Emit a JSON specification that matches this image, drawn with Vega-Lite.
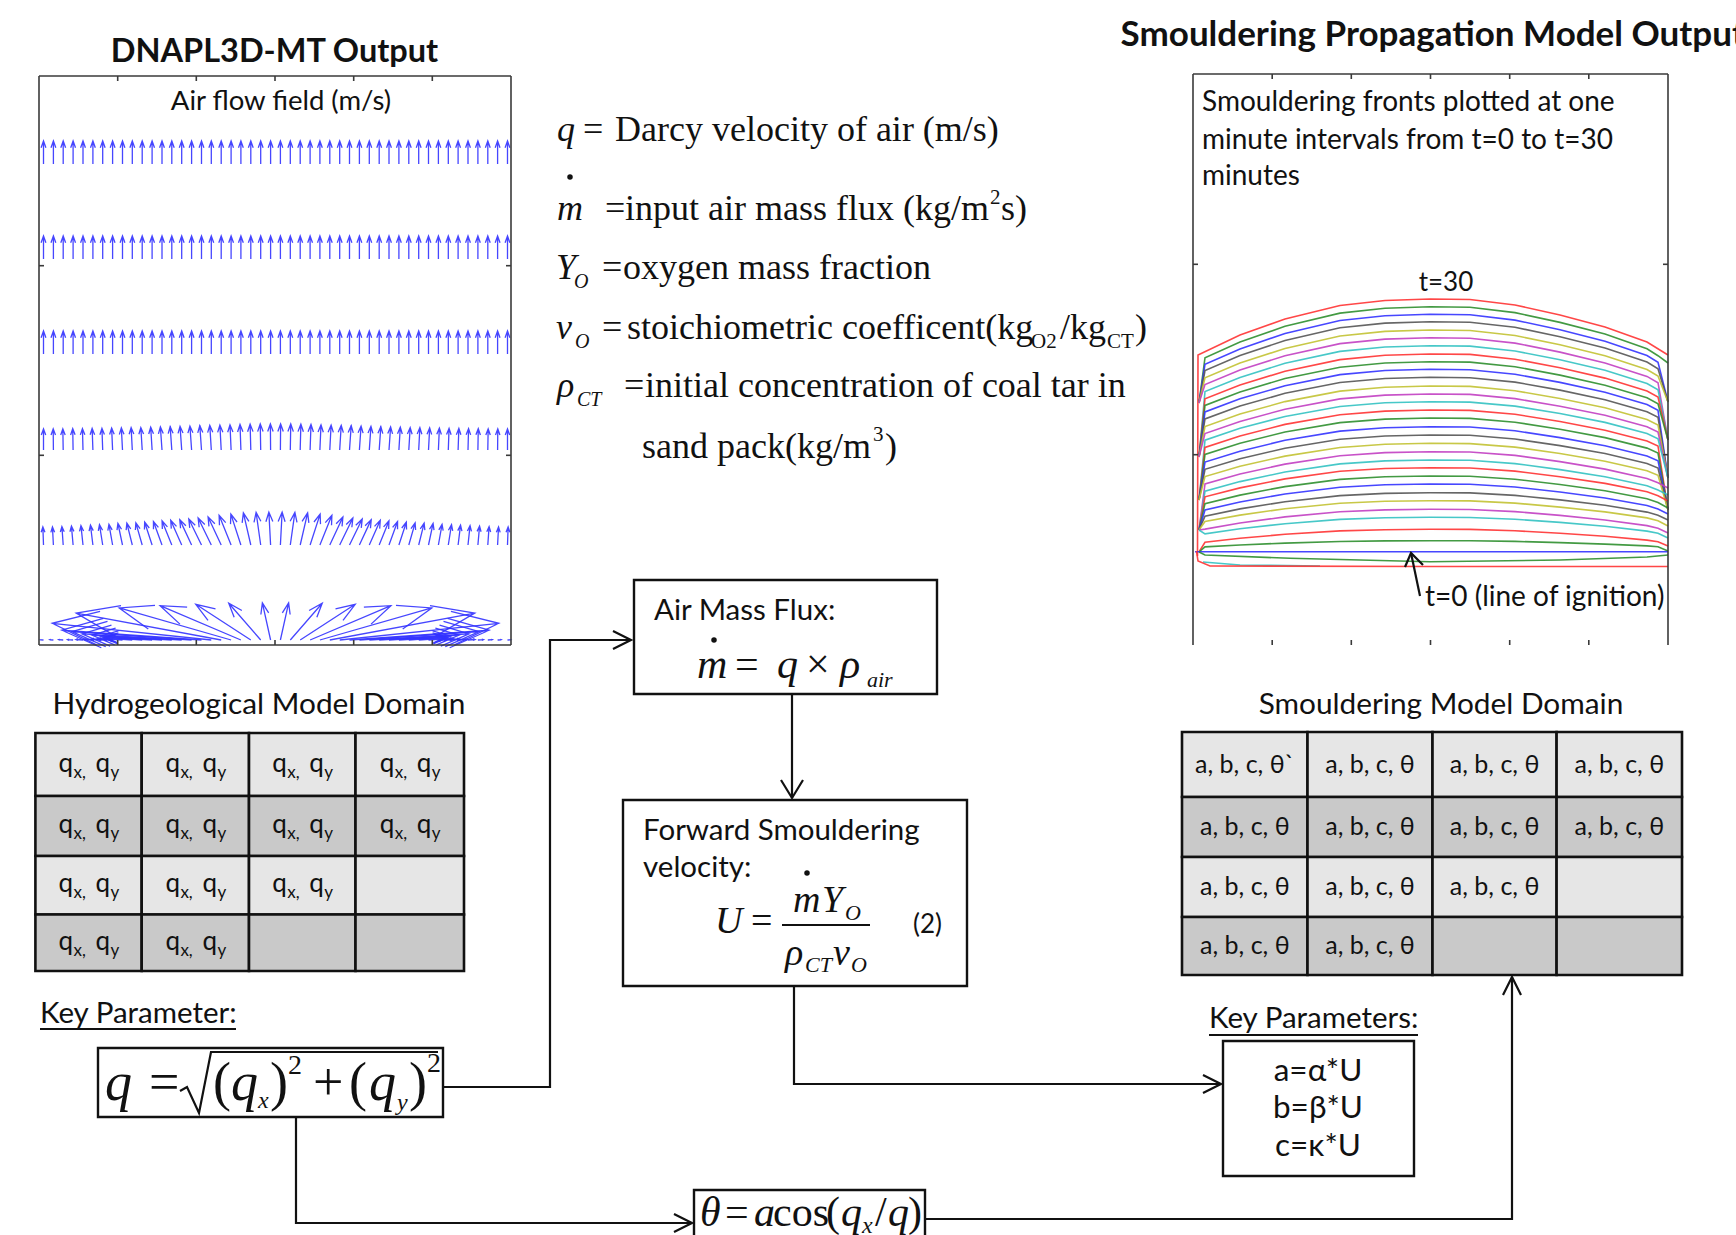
{
"$schema":"https://vega.github.io/schema/vega-lite/v6.json",
"width":1736,"height":1235,"autosize":{"type":"none"},"padding":0,
"background":"#ffffff",
"config":{"view":{"stroke":null}},
"datasets":{
"cells":[
{"x":35.4,"x2":141.7,"y":733,"y2":796,"row":1},{"x":141.7,"x2":249,"y":733,"y2":796,"row":1},{"x":249,"x2":355.5,"y":733,"y2":796,"row":1},{"x":355.5,"x2":464,"y":733,"y2":796,"row":1},
{"x":35.4,"x2":141.7,"y":796,"y2":856,"row":2},{"x":141.7,"x2":249,"y":796,"y2":856,"row":2},{"x":249,"x2":355.5,"y":796,"y2":856,"row":2},{"x":355.5,"x2":464,"y":796,"y2":856,"row":2},
{"x":35.4,"x2":141.7,"y":856,"y2":914.5,"row":3},{"x":141.7,"x2":249,"y":856,"y2":914.5,"row":3},{"x":249,"x2":355.5,"y":856,"y2":914.5,"row":3},{"x":355.5,"x2":464,"y":856,"y2":914.5,"row":3},
{"x":35.4,"x2":141.7,"y":914.5,"y2":971,"row":4},{"x":141.7,"x2":249,"y":914.5,"y2":971,"row":4},{"x":249,"x2":355.5,"y":914.5,"y2":971,"row":4},{"x":355.5,"x2":464,"y":914.5,"y2":971,"row":4},
{"x":1182,"x2":1307.5,"y":732,"y2":797,"row":1},{"x":1307.5,"x2":1432.5,"y":732,"y2":797,"row":1},{"x":1432.5,"x2":1556.6,"y":732,"y2":797,"row":1},{"x":1556.6,"x2":1682,"y":732,"y2":797,"row":1},
{"x":1182,"x2":1307.5,"y":797,"y2":857,"row":2},{"x":1307.5,"x2":1432.5,"y":797,"y2":857,"row":2},{"x":1432.5,"x2":1556.6,"y":797,"y2":857,"row":2},{"x":1556.6,"x2":1682,"y":797,"y2":857,"row":2},
{"x":1182,"x2":1307.5,"y":857,"y2":917,"row":3},{"x":1307.5,"x2":1432.5,"y":857,"y2":917,"row":3},{"x":1432.5,"x2":1556.6,"y":857,"y2":917,"row":3},{"x":1556.6,"x2":1682,"y":857,"y2":917,"row":3},
{"x":1182,"x2":1307.5,"y":917,"y2":975,"row":4},{"x":1307.5,"x2":1432.5,"y":917,"y2":975,"row":4},{"x":1432.5,"x2":1556.6,"y":917,"y2":975,"row":4},{"x":1556.6,"x2":1682,"y":917,"y2":975,"row":4}
],
"boxes":[
{"x":634,"x2":937,"y":580,"y2":694},{"x":623,"x2":967,"y":800,"y2":986},{"x":1223,"x2":1414,"y":1041,"y2":1176},{"x":98,"x2":443,"y":1048,"y2":1117},{"x":694,"x2":925,"y":1190,"y2":1250}
],
"axlines":[
{"x":39,"y":76,"x2":511,"y2":76},{"x":39,"y":645,"x2":511,"y2":645},{"x":39,"y":76,"x2":39,"y2":645},{"x":511,"y":76,"x2":511,"y2":645},
{"x":1193,"y":74,"x2":1193,"y2":645},{"x":1193,"y":74,"x2":1668,"y2":74},{"x":1668,"y":74,"x2":1668,"y2":645},
{"x":117.7,"y":76,"x2":117.7,"y2":81},{"x":196.3,"y":76,"x2":196.3,"y2":81},{"x":275,"y":76,"x2":275,"y2":81},{"x":353.7,"y":76,"x2":353.7,"y2":81},{"x":432.3,"y":76,"x2":432.3,"y2":81},
{"x":117.7,"y":645,"x2":117.7,"y2":640},{"x":196.3,"y":645,"x2":196.3,"y2":640},{"x":275,"y":645,"x2":275,"y2":640},{"x":353.7,"y":645,"x2":353.7,"y2":640},{"x":432.3,"y":645,"x2":432.3,"y2":640},
{"x":39,"y":265.7,"x2":44,"y2":265.7},{"x":39,"y":455.3,"x2":44,"y2":455.3},{"x":511,"y":265.7,"x2":506,"y2":265.7},{"x":511,"y":455.3,"x2":506,"y2":455.3},
{"x":1272.2,"y":74,"x2":1272.2,"y2":79},{"x":1351.3,"y":74,"x2":1351.3,"y2":79},{"x":1430.5,"y":74,"x2":1430.5,"y2":79},{"x":1509.7,"y":74,"x2":1509.7,"y2":79},{"x":1588.8,"y":74,"x2":1588.8,"y2":79},
{"x":1272.2,"y":645,"x2":1272.2,"y2":640},{"x":1351.3,"y":645,"x2":1351.3,"y2":640},{"x":1430.5,"y":645,"x2":1430.5,"y2":640},{"x":1509.7,"y":645,"x2":1509.7,"y2":640},{"x":1588.8,"y":645,"x2":1588.8,"y2":640},
{"x":1193,"y":264.3,"x2":1198,"y2":264.3},{"x":1193,"y":454.7,"x2":1198,"y2":454.7},{"x":1668,"y":264.3,"x2":1663,"y2":264.3},{"x":1668,"y":454.7,"x2":1663,"y2":454.7}
],
"paths":[
{"p":"P1","i":[0,1,2,3],"x":[444,550,550,631],"y":[1087,1087,640,640]},
{"p":"P1h","i":[0,1,2],"x":[613,631,613],"y":[631,640,649]},
{"p":"P2","i":[0,1],"x":[792,792],"y":[694,798]},
{"p":"P2h","i":[0,1,2],"x":[781,792,803],"y":[780,798,780]},
{"p":"P3","i":[0,1,2],"x":[794,794,1221],"y":[986,1084,1084]},
{"p":"P3h","i":[0,1,2],"x":[1203,1221,1203],"y":[1075,1084,1093]},
{"p":"P4","i":[0,1,2],"x":[296,296,692],"y":[1117,1223,1223]},
{"p":"P4h","i":[0,1,2],"x":[674,692,674],"y":[1214,1223,1232]},
{"p":"P5","i":[0,1,2],"x":[925,1512,1512],"y":[1219,1219,977]},
{"p":"P5h","i":[0,1,2],"x":[1503,1512,1521],"y":[995,977,995]},
{"p":"U1","i":[0,1],"x":[40,236],"y":[1029,1029]},
{"p":"U2","i":[0,1],"x":[1209,1418],"y":[1035,1035]},
{"p":"FB","i":[0,1],"x":[782,870],"y":[925,925]},
{"p":"RAD","i":[0,1,2,3,4],"x":[180,187,199,211,438],"y":[1091,1087,1113,1052,1052]},
{"p":"K","i":[0,1],"x":[1420,1411],"y":[596,553]},
{"p":"Kh","i":[0,1,2],"x":[1405,1411,1423],"y":[567,553,565]}
],
"fronts":[
{"t":30,"x":[1197.5,1198,1240,1285,1340,1385,1430,1470,1515,1560,1605,1647,1668],"y":[556,355,335,319,305.5,300.5,299,299.5,305,315,327,342,355]},
{"t":29,"x":[1199,1205,1240,1285,1340,1385,1430,1470,1515,1560,1605,1647,1658,1668],"y":[403,357.7,342.0,326.3,313.1,308.2,306.7,307.2,312.6,322.4,334.1,348.8,355.7,363]},
{"t":28,"x":[1199,1205,1240,1285,1340,1385,1430,1470,1515,1560,1605,1647,1658,1668],"y":[403,364.2,348.9,333.5,320.5,315.7,314.3,314.8,320.1,329.7,341.2,355.6,362.3,402]},
{"t":27,"x":[1199,1205,1240,1285,1340,1385,1430,1470,1515,1560,1605,1647,1658,1668],"y":[403,370.6,355.5,340.5,327.8,323.1,321.7,322.2,327.3,336.7,348.0,362.1,368.7,402]},
{"t":26,"x":[1199,1205,1240,1285,1340,1385,1430,1470,1515,1560,1605,1647,1658,1668],"y":[403,377.8,363.1,348.4,336.0,331.4,330,330.5,335.5,344.7,355.8,369.6,376.0,402]},
{"t":25,"x":[1199,1205,1240,1285,1340,1385,1430,1470,1515,1560,1605,1647,1658,1668],"y":[403,384.5,370.1,355.7,343.6,339.1,337.7,338.2,343.1,352.1,362.9,376.4,382.7,440]},
{"t":24,"x":[1199,1205,1240,1285,1340,1385,1430,1470,1515,1560,1605,1647,1658,1668],"y":[457,391.5,377.4,363.3,351.4,347.0,345.7,346.1,351.0,359.8,370.3,383.5,389.7,440]},
{"t":23,"x":[1199,1205,1240,1285,1340,1385,1430,1470,1515,1560,1605,1647,1658,1668],"y":[457,398.7,385.0,371.2,359.6,355.3,354,354.4,359.2,367.8,378.1,391.0,397.0,440]},
{"t":22,"x":[1199,1205,1240,1285,1340,1385,1430,1470,1515,1560,1605,1647,1658,1668],"y":[457,405.4,391.9,378.5,367.2,363.0,361.7,362.1,366.7,375.1,385.2,397.8,403.7,440]},
{"t":21,"x":[1199,1205,1240,1285,1340,1385,1430,1470,1515,1560,1605,1647,1658,1668],"y":[457,411.9,398.8,385.7,374.6,370.5,369.3,369.7,374.2,382.4,392.3,404.6,410.3,478]},
{"t":20,"x":[1199,1205,1240,1285,1340,1385,1430,1470,1515,1560,1605,1647,1658,1668],"y":[457,418.9,406.1,393.3,382.5,378.5,377.3,377.7,382.1,390.1,399.7,411.7,417.3,478]},
{"t":19,"x":[1199,1205,1240,1285,1340,1385,1430,1470,1515,1560,1605,1647,1658,1668],"y":[457,426.6,414.1,401.6,391.1,387.2,386,386.4,390.7,398.5,407.8,419.5,425.0,478]},
{"t":18,"x":[1199,1205,1240,1285,1340,1385,1430,1470,1515,1560,1605,1647,1658,1668],"y":[457,433.5,421.4,409.2,398.9,395.1,394,394.4,398.6,406.2,415.3,426.7,432.0,478]},
{"t":17,"x":[1199,1205,1240,1285,1340,1385,1430,1470,1515,1560,1605,1647,1658,1668],"y":[500,440.2,428.3,416.5,406.5,402.8,401.7,402.1,406.1,413.5,422.4,433.5,438.7,478]},
{"t":16,"x":[1199,1205,1240,1285,1340,1385,1430,1470,1515,1560,1605,1647,1658,1668],"y":[500,447.4,435.9,424.4,414.7,411.1,410,410.4,414.3,421.5,430.2,441.0,446.0,510]},
{"t":15,"x":[1199,1205,1240,1285,1340,1385,1430,1470,1515,1560,1605,1647,1658,1668],"y":[500,454.4,443.2,432.0,422.6,419.1,418,418.4,422.2,429.2,437.6,448.1,453.0,510]},
{"t":14,"x":[1199,1205,1240,1285,1340,1385,1430,1470,1515,1560,1605,1647,1658,1668],"y":[500,462.1,451.2,440.3,431.1,427.7,426.7,427.0,430.8,437.6,445.7,455.9,460.7,510]},
{"t":13,"x":[1199,1205,1240,1285,1340,1385,1430,1470,1515,1560,1605,1647,1658,1668],"y":[500,469.3,458.8,448.2,439.3,436.0,435,435.3,439.0,445.6,453.5,463.4,468.0,510]},
{"t":12,"x":[1199,1205,1240,1285,1340,1385,1430,1470,1515,1560,1605,1647,1658,1668],"y":[500,476.6,466.3,456.1,447.5,444.3,443.3,443.6,447.1,453.5,461.2,470.8,475.3,510]},
{"t":11,"x":[1199,1205,1240,1285,1340,1385,1430,1470,1515,1560,1605,1647,1658,1668],"y":[530,483.9,474.0,464.1,455.7,452.6,451.7,452.0,455.4,461.6,469.1,478.4,482.7,488]},
{"t":10,"x":[1199,1205,1240,1285,1340,1385,1430,1470,1515,1560,1605,1647,1658,1668],"y":[530,491.2,481.6,472.0,463.9,460.9,460,460.3,463.6,469.6,476.8,485.8,490.0,495]},
{"t":9,"x":[1199,1205,1240,1285,1340,1385,1430,1470,1515,1560,1605,1647,1658,1668],"y":[530,496.8,487.9,478.9,471.3,468.5,467.7,468.0,471.1,476.7,483.4,491.8,495.7,501]},
{"t":8,"x":[1199,1205,1240,1285,1340,1385,1430,1470,1515,1560,1605,1647,1658,1668],"y":[530,503.6,495.1,486.6,479.4,476.8,476,476.3,479.2,484.5,490.8,498.8,502.5,508]},
{"t":7,"x":[1199,1205,1240,1285,1340,1385,1430,1470,1515,1560,1605,1647,1658,1668],"y":[530,510,502,494,487.3,484.8,484,484.3,487,492,498,505.5,509,514]},
{"t":6,"x":[1199,1205,1240,1285,1340,1385,1430,1470,1515,1560,1605,1647,1658,1668],"y":[530,516.1,508.9,501.7,495.6,493.4,492.7,492.9,495.4,499.9,505.3,512.1,515.2,520]},
{"t":5,"x":[1199,1205,1240,1285,1340,1385,1430,1470,1515,1560,1605,1647,1658,1668],"y":[530,521.5,515.1,508.7,503.3,501.3,500.7,500.9,503.1,507.1,511.9,517.9,520.7,526]},
{"t":4,"x":[1199,1205,1240,1285,1340,1385,1430,1470,1515,1560,1605,1647,1658,1668],"y":[530,529.1,523.0,516.9,511.8,509.9,509.3,509.5,511.6,515.4,520.0,525.6,528.3,533]},
{"t":3,"x":[1199,1205,1240,1285,1340,1385,1430,1470,1515,1560,1605,1647,1658,1668],"y":[530,533.9,528.8,523.7,519.4,517.8,517.3,517.5,519.2,522.4,526.3,531.1,533.3,538]},
{"t":2,"x":[1199,1205,1240,1285,1340,1385,1430,1470,1515,1560,1605,1647,1658,1668],"y":[552,542.3,538.3,534.3,530.9,529.7,529.3,529.4,530.8,533.3,536.3,540.1,541.8,546]},
{"t":1,"x":[1199,1205,1240,1285,1340,1385,1430,1470,1515,1560,1605,1647,1658,1668],"y":[552,546.9,545.0,543.1,541.5,540.9,540.7,540.8,541.4,542.6,544.1,545.9,546.7,551]},
{"t":0,"x":[1195,1668],"y":[551.7,551.7]},
{"t":31,"x":[1199,1205,1290,1430,1560,1647,1668],"y":[552,555,558.3,561.7,560,557,555]},
{"t":32,"x":[1203,1240,1320],"y":[562,565,566]},
{"t":33,"x":[1196.5,1198,1210,1430,1668],"y":[551,561,566,566.5,566.5]}
],
"quiverU":[
{"y":164,"a":0,"L":23,"x":[43.5,53.4,63.2,73.1,83.0,92.9,102.7,112.6,122.5,132.3,142.2,152.1,162.0,171.8,181.7,191.6,201.5,211.3,221.2,231.1,240.9,250.8,260.7,270.6,280.4,290.3,300.2,310.1,319.9,329.8,339.7,349.5,359.4,369.3,379.2,389.0,398.9,408.8,418.7,428.5,438.4,448.3,458.1,468.0,477.9,487.8,497.6,507.5]},
{"y":259,"a":0,"L":23,"x":[43.5,53.4,63.2,73.1,83.0,92.9,102.7,112.6,122.5,132.3,142.2,152.1,162.0,171.8,181.7,191.6,201.5,211.3,221.2,231.1,240.9,250.8,260.7,270.6,280.4,290.3,300.2,310.1,319.9,329.8,339.7,349.5,359.4,369.3,379.2,389.0,398.9,408.8,418.7,428.5,438.4,448.3,458.1,468.0,477.9,487.8,497.6,507.5]},
{"y":354,"a":0,"L":23,"x":[43.5,53.4,63.2,73.1,83.0,92.9,102.7,112.6,122.5,132.3,142.2,152.1,162.0,171.8,181.7,191.6,201.5,211.3,221.2,231.1,240.9,250.8,260.7,270.6,280.4,290.3,300.2,310.1,319.9,329.8,339.7,349.5,359.4,369.3,379.2,389.0,398.9,408.8,418.7,428.5,438.4,448.3,458.1,468.0,477.9,487.8,497.6,507.5]}
],
"quiverV":[
{"y":450,"x":[43.5,53.4,63.2,73.1,83.0,92.9,102.7,112.6,122.5,132.3,142.2,152.1,162.0,171.8,181.7,191.6,201.5,211.3,221.2,231.1,240.9,250.8,260.7,270.6,280.4,290.3,300.2,310.1,319.9,329.8,339.7,349.5,359.4,369.3,379.2,389.0,398.9,408.8,418.7,428.5,438.4,448.3,458.1,468.0,477.9,487.8,497.6,507.5],
"a":[0,-0.5,-1,-1,-1.5,-2,-2,-2.5,-3,-3,-3.5,-3.5,-4,-4,-4,-4,-4,-3.5,-3,-2.5,-2,-1.5,-1,-0.5,0.5,1,1.5,2,2.5,3,3.5,4,4,4,4,4,3.5,3.5,3,3,2.5,2,2,1.5,1,1,0.5,0],
"L":[21,21.1,21.2,21.3,21.4,21.5,21.7,21.9,22.1,22.3,22.5,22.8,23.1,23.4,23.7,24,24.4,24.7,25,25.2,25.5,25.8,26,26,26,26,25.8,25.5,25.2,25,24.7,24.4,24,23.7,23.4,23.1,22.8,22.5,22.3,22.1,21.9,21.7,21.5,21.4,21.3,21.2,21.1,21]},
{"y":545,"x":[43.5,53.4,63.2,73.1,83.0,92.9,102.7,112.6,122.5,132.3,142.2,152.1,162.0,171.8,181.7,191.6,201.5,211.3,221.2,231.1,240.9,250.8,260.7,270.6,280.4,290.3,300.2,310.1,319.9,329.8,339.7,349.5,359.4,369.3,379.2,389.0,398.9,408.8,418.7,428.5,438.4,448.3,458.1,468.0,477.9,487.8,497.6,507.5],
"a":[-2,-3,-4,-5,-6,-7,-9,-10,-12,-14,-16,-18,-20,-22,-24,-25,-26,-26,-25,-22,-18,-13,-8,-3,3,8,13,18,22,25,26,26,25,24,22,20,18,16,14,12,10,9,7,6,5,4,3,2],
"L":[18,18,18.5,19,19.5,20,20.5,21,22,22.5,23,24,25,26,27,28,29,30,31,32,32.5,33,33,33,33,33,33,32.5,32,31,30,29,28,27,26,25,24,23,22.5,22,21,20.5,20,19.5,19,18.5,18,18]},
{"y":640,"x":[43.5,53.4,63.2,73.1,83.0,92.9,102.7,112.6,122.5,132.3,142.2,152.1,162.0,171.8,181.7,191.6,201.5,211.3,221.2,231.1,240.9,250.8,260.7,270.6,280.4,290.3,300.2,310.1,319.9,329.8,339.7,349.5,359.4,369.3,379.2,389.0,398.9,408.8,418.7,428.5,438.4,448.3,458.1,468.0,477.9,487.8,497.6,507.5],
"a":[-86,-86,-86,-86,-86,-86,-86,-86,-86,-86,-86,-86.5,-86.5,-86.5,-86.5,-86,-86,-84,-79.5,-74,-67,-57,-41,-12.5,12.5,41,57,67,74,79.5,84,86,86,86.5,86.5,86.5,86.5,86,86,86,86,86,86,86,86,86,86,86],
"L":[3,3.5,4.5,5.5,7,9,12,16,21,28,37,48,62,80,100,120,140,160,147.5,116.4,87.8,65.6,48.7,38,38,48.7,65.6,87.8,116.4,147.5,160,140,120,100,80,62,48,37,28,21,16,12,9,7,5.5,4.5,3.5,3]}
],
"dots":[{"x":570,"y":177},{"x":714,"y":640},{"x":807,"y":873}],
"qcells":[
{"x":88.6,"y":764.5},{"x":195.4,"y":764.5},{"x":302.3,"y":764.5},{"x":409.8,"y":764.5},
{"x":88.6,"y":826},{"x":195.4,"y":826},{"x":302.3,"y":826},{"x":409.8,"y":826},
{"x":88.6,"y":885.3},{"x":195.4,"y":885.3},{"x":302.3,"y":885.3},
{"x":88.6,"y":942.8},{"x":195.4,"y":942.8}
],
"rcells":[
{"x":1244.8,"y":764.5,"s":"a, b, c, θ`"},{"x":1370,"y":764.5,"s":"a, b, c, θ"},{"x":1494.6,"y":764.5,"s":"a, b, c, θ"},{"x":1619.3,"y":764.5,"s":"a, b, c, θ"},
{"x":1244.8,"y":827,"s":"a, b, c, θ"},{"x":1370,"y":827,"s":"a, b, c, θ"},{"x":1494.6,"y":827,"s":"a, b, c, θ"},{"x":1619.3,"y":827,"s":"a, b, c, θ"},
{"x":1244.8,"y":887,"s":"a, b, c, θ"},{"x":1370,"y":887,"s":"a, b, c, θ"},{"x":1494.6,"y":887,"s":"a, b, c, θ"},
{"x":1244.8,"y":946,"s":"a, b, c, θ"},{"x":1370,"y":946,"s":"a, b, c, θ"}
],
"tTitle1":[{"x":110.7,"y":52,"s":"DNAPL3D-MT Output"}],
"tTitle2":[{"x":1120.6,"y":35,"s":"Smouldering Propagation Model Output"}],
"tDomain":[{"x":259,"y":705,"s":"Hydrogeological Model Domain"},{"x":1441,"y":705,"s":"Smouldering Model Domain"}],
"tAir":[{"x":281,"y":102,"s":"Air flow field (m/s)"}],
"tNote":[{"x":1202,"y":103,"s":"Smouldering fronts plotted at one"},{"x":1202,"y":140.5,"s":"minute intervals from t=0 to t=30"},{"x":1202,"y":177,"s":"minutes"},{"x":1425,"y":598,"s":"t=0 (line of ignition)"}],
"tT30":[{"x":1446,"y":283,"s":"t=30"}],
"tBox":[{"x":654,"y":611,"s":"Air Mass Flux:"},{"x":643,"y":831,"s":"Forward Smouldering"},{"x":643,"y":868,"s":"velocity:"},{"x":40,"y":1014,"s":"Key Parameter:"},{"x":1209,"y":1019,"s":"Key Parameters:"}],
"tEq2":[{"x":913,"y":925,"s":"(2)"}],
"tKP":[{"x":1318,"y":1072,"s":"a=α*U"},{"x":1318,"y":1109,"s":"b=β*U"},{"x":1318,"y":1147,"s":"c=κ*U"}],
"mI36":[{"x":557,"y":141,"s":"q"},{"x":557,"y":220,"s":"m"},{"x":556,"y":279,"s":"Y"},{"x":556,"y":339,"s":"ν"},{"x":557,"y":397,"s":"ρ"}],
"mR36":[{"x":583,"y":141,"s":"="},{"x":615,"y":141,"s":"Darcy velocity of air (m/s)"},{"x":605,"y":220,"s":"="},{"x":625,"y":220,"s":"input air mass flux (kg/m"},{"x":1001,"y":220,"s":"s)"},{"x":602,"y":279,"s":"="},{"x":623,"y":279,"s":"oxygen mass fraction"},{"x":602,"y":339,"s":"="},{"x":627,"y":339,"s":"stoichiometric coefficent(kg"},{"x":1060,"y":339,"s":"/kg"},{"x":1135,"y":339,"s":")"},{"x":624,"y":397,"s":"="},{"x":645,"y":397,"s":"initial concentration of coal tar in"},{"x":642,"y":458,"s":"sand pack(kg/m"},{"x":885,"y":458,"s":")"}],
"mI20":[{"x":574,"y":288,"s":"O"},{"x":575,"y":348,"s":"O"},{"x":577,"y":406,"s":"CT"}],
"mR21":[{"x":990,"y":204,"s":"2"},{"x":1031,"y":348,"s":"O2"},{"x":1107,"y":348,"s":"CT"},{"x":873,"y":441,"s":"3"}],
"mI42":[{"x":697,"y":678,"s":"m"},{"x":777,"y":678,"s":"q"},{"x":840,"y":678,"s":"ρ"},{"x":700,"y":1226,"s":"θ"},{"x":754,"y":1226,"s":"a"},{"x":841,"y":1226,"s":"q"},{"x":888,"y":1226,"s":"q"}],
"mR42":[{"x":735,"y":678,"s":"="},{"x":806,"y":678,"s":"×"},{"x":725,"y":1226,"s":"="},{"x":773,"y":1226,"s":"cos"},{"x":826,"y":1226,"s":"("},{"x":875,"y":1226,"s":"/"},{"x":908,"y":1226,"s":")"}],
"mI22":[{"x":867,"y":687,"s":"air"},{"x":845,"y":920,"s":"O"},{"x":805,"y":972,"s":"CT"},{"x":851,"y":972,"s":"O"}],
"mI24":[{"x":862,"y":1233,"s":"x"},{"x":258,"y":1108,"s":"x"},{"x":397,"y":1110,"s":"y"}],
"mI38":[{"x":715,"y":933,"s":"U"},{"x":793,"y":912,"s":"m"},{"x":822,"y":912,"s":"Y"},{"x":785,"y":965,"s":"ρ"},{"x":833,"y":965,"s":"ν"}],
"mR38":[{"x":751,"y":933,"s":"="}],
"mI54":[{"x":105,"y":1100,"s":"q"},{"x":231,"y":1100,"s":"q"},{"x":369,"y":1100,"s":"q"}],
"mR54":[{"x":149,"y":1100,"s":"="},{"x":213,"y":1100,"s":"("},{"x":270,"y":1100,"s":")"},{"x":313,"y":1100,"s":"+"},{"x":349,"y":1100,"s":"("},{"x":409,"y":1100,"s":")"}],
"mR28":[{"x":288,"y":1074,"s":"2"},{"x":427,"y":1072,"s":"2"}]
},
"encoding":{
"x":{"field":"x","type":"quantitative","scale":{"domain":[0,1736],"nice":false,"zero":false},"axis":null},
"y":{"field":"y","type":"quantitative","scale":{"domain":[0,1235],"nice":false,"zero":false,"reverse":true},"axis":null}
},
"layer":[
{"data":{"name":"cells"},"mark":{"type":"rect","stroke":"#111111","strokeWidth":2.6},"encoding":{"x2":{"field":"x2"},"y2":{"field":"y2"},"fill":{"field":"row","type":"ordinal","scale":{"domain":[1,2,3,4],"range":["#e6e6e6","#c9c9c9","#e6e6e6","#c9c9c9"]},"legend":null}}},
{"data":{"name":"fronts"},"transform":[{"flatten":["x","y"]}],"mark":{"type":"line","strokeWidth":1.6,"opacity":0.9},"encoding":{"color":{"field":"t","type":"nominal","scale":{"domain":[0,1,2,3,4,5,6,7,8,9,10,11,12,13,14,15,16,17,18,19,20,21,22,23,24,25,26,27,28,29,30,31,32,33],"range":["#3333ff","#2f8f2f","#ff3333","#33c2c2","#c23fc2","#c2c233","#555555","#3333ff","#2f8f2f","#ff3333","#33c2c2","#c23fc2","#c2c233","#555555","#3333ff","#2f8f2f","#ff3333","#33c2c2","#c23fc2","#c2c233","#555555","#3333ff","#2f8f2f","#ff3333","#33c2c2","#c23fc2","#c2c233","#555555","#3333ff","#2f8f2f","#ff3333","#2f8f2f","#33c2c2","#ff3333"]},"legend":null},"order":{"field":"x","type":"quantitative"}}},
{"data":{"name":"quiverU"},"transform":[{"flatten":["x"]}],"mark":{"type":"point","shape":"M0,0L0,-2M-0.21,-1.42L0,-2L0.21,-1.42","filled":false,"stroke":"#3333ff","strokeWidth":1.3,"opacity":0.9},"encoding":{"size":{"field":"L","type":"quantitative","scale":{"type":"pow","exponent":2,"domain":[0,200],"range":[0,40000]},"legend":null},"angle":{"field":"a","type":"quantitative","scale":{"domain":[-360,360],"range":[-360,360]}}}},
{"data":{"name":"quiverV"},"transform":[{"flatten":["x","a","L"]}],"mark":{"type":"point","shape":"M0,0L0,-2M-0.21,-1.42L0,-2L0.21,-1.42","filled":false,"stroke":"#3333ff","strokeWidth":1.3,"opacity":0.9},"encoding":{"size":{"field":"L","type":"quantitative","scale":{"type":"pow","exponent":2,"domain":[0,200],"range":[0,40000]},"legend":null},"angle":{"field":"a","type":"quantitative","scale":{"domain":[-360,360],"range":[-360,360]}}}},
{"data":{"name":"axlines"},"mark":{"type":"rule","stroke":"#3a3a3a","strokeWidth":1.6},"encoding":{"x2":{"field":"x2"},"y2":{"field":"y2"}}},
{"data":{"name":"boxes"},"mark":{"type":"rect","filled":false,"stroke":"#111111","strokeWidth":2.4},"encoding":{"x2":{"field":"x2"},"y2":{"field":"y2"}}},
{"data":{"name":"paths"},"transform":[{"flatten":["x","y","i"]}],"mark":{"type":"line","stroke":"#111111","strokeWidth":2.2,"strokeJoin":"miter"},"encoding":{"detail":{"field":"p","type":"nominal"},"order":{"field":"i","type":"quantitative"}}},
{"data":{"name":"dots"},"mark":{"type":"point","shape":"circle","filled":true,"color":"#111111","size":30,"opacity":1}},
{"data":{"name":"tTitle1"},"mark":{"type":"text","font":"Lato","fontWeight":"bold","fontSize":32.5,"align":"left","baseline":"middle","color":"#111111"},"encoding":{"text":{"field":"s"}}},
{"data":{"name":"tTitle2"},"mark":{"type":"text","font":"Lato","fontWeight":"bold","fontSize":35,"align":"left","baseline":"middle","color":"#111111"},"encoding":{"text":{"field":"s"}}},
{"data":{"name":"tDomain"},"mark":{"type":"text","font":"Lato","fontSize":29.8,"align":"center","baseline":"middle","color":"#111111"},"encoding":{"text":{"field":"s"}}},
{"data":{"name":"tAir"},"mark":{"type":"text","font":"Lato","fontSize":27.5,"align":"center","baseline":"middle","color":"#111111"},"encoding":{"text":{"field":"s"}}},
{"data":{"name":"tNote"},"mark":{"type":"text","font":"Lato","fontSize":28,"align":"left","baseline":"middle","color":"#111111"},"encoding":{"text":{"field":"s"}}},
{"data":{"name":"tT30"},"mark":{"type":"text","font":"Lato","fontSize":26,"align":"center","baseline":"middle","color":"#111111"},"encoding":{"text":{"field":"s"}}},
{"data":{"name":"tBox"},"mark":{"type":"text","font":"Lato","fontSize":29.5,"align":"left","baseline":"middle","color":"#111111"},"encoding":{"text":{"field":"s"}}},
{"data":{"name":"tEq2"},"mark":{"type":"text","font":"Lato","fontSize":26,"align":"left","baseline":"middle","color":"#111111"},"encoding":{"text":{"field":"s"}}},
{"data":{"name":"tKP"},"mark":{"type":"text","font":"Lato","fontSize":31.5,"align":"center","baseline":"middle","color":"#111111"},"encoding":{"text":{"field":"s"}}},
{"data":{"name":"rcells"},"mark":{"type":"text","font":"Lato","fontSize":25,"align":"center","baseline":"middle","color":"#111111"},"encoding":{"text":{"field":"s"}}},
{"data":{"name":"qcells"},"mark":{"type":"text","font":"Lato","fontSize":26,"align":"left","baseline":"alphabetic","dx":-30,"dy":7,"color":"#111111"},"encoding":{"text":{"value":"q"}}},
{"data":{"name":"qcells"},"mark":{"type":"text","font":"Lato","fontSize":26,"align":"left","baseline":"alphabetic","dx":7,"dy":7,"color":"#111111"},"encoding":{"text":{"value":"q"}}},
{"data":{"name":"qcells"},"mark":{"type":"text","font":"Lato","fontSize":17,"align":"left","baseline":"alphabetic","dx":-15,"dy":13,"color":"#111111"},"encoding":{"text":{"value":"x,"}}},
{"data":{"name":"qcells"},"mark":{"type":"text","font":"Lato","fontSize":17,"align":"left","baseline":"alphabetic","dx":22,"dy":13,"color":"#111111"},"encoding":{"text":{"value":"y"}}},
{"data":{"name":"mI36"},"mark":{"type":"text","font":"Liberation Serif","fontStyle":"italic","fontSize":36,"align":"left","baseline":"alphabetic","color":"#111111"},"encoding":{"text":{"field":"s"}}},
{"data":{"name":"mR36"},"mark":{"type":"text","font":"Liberation Serif","fontSize":36,"align":"left","baseline":"alphabetic","color":"#111111"},"encoding":{"text":{"field":"s"}}},
{"data":{"name":"mI20"},"mark":{"type":"text","font":"Liberation Serif","fontStyle":"italic","fontSize":20,"align":"left","baseline":"alphabetic","color":"#111111"},"encoding":{"text":{"field":"s"}}},
{"data":{"name":"mR21"},"mark":{"type":"text","font":"Liberation Serif","fontSize":21,"align":"left","baseline":"alphabetic","color":"#111111"},"encoding":{"text":{"field":"s"}}},
{"data":{"name":"mI42"},"mark":{"type":"text","font":"Liberation Serif","fontStyle":"italic","fontSize":42,"align":"left","baseline":"alphabetic","color":"#111111"},"encoding":{"text":{"field":"s"}}},
{"data":{"name":"mR42"},"mark":{"type":"text","font":"Liberation Serif","fontSize":42,"align":"left","baseline":"alphabetic","color":"#111111"},"encoding":{"text":{"field":"s"}}},
{"data":{"name":"mI22"},"mark":{"type":"text","font":"Liberation Serif","fontStyle":"italic","fontSize":22,"align":"left","baseline":"alphabetic","color":"#111111"},"encoding":{"text":{"field":"s"}}},
{"data":{"name":"mI24"},"mark":{"type":"text","font":"Liberation Serif","fontStyle":"italic","fontSize":24,"align":"left","baseline":"alphabetic","color":"#111111"},"encoding":{"text":{"field":"s"}}},
{"data":{"name":"mI38"},"mark":{"type":"text","font":"Liberation Serif","fontStyle":"italic","fontSize":38,"align":"left","baseline":"alphabetic","color":"#111111"},"encoding":{"text":{"field":"s"}}},
{"data":{"name":"mR38"},"mark":{"type":"text","font":"Liberation Serif","fontSize":38,"align":"left","baseline":"alphabetic","color":"#111111"},"encoding":{"text":{"field":"s"}}},
{"data":{"name":"mI54"},"mark":{"type":"text","font":"Liberation Serif","fontStyle":"italic","fontSize":54,"align":"left","baseline":"alphabetic","color":"#111111"},"encoding":{"text":{"field":"s"}}},
{"data":{"name":"mR54"},"mark":{"type":"text","font":"Liberation Serif","fontSize":54,"align":"left","baseline":"alphabetic","color":"#111111"},"encoding":{"text":{"field":"s"}}},
{"data":{"name":"mR28"},"mark":{"type":"text","font":"Liberation Serif","fontSize":28,"align":"left","baseline":"alphabetic","color":"#111111"},"encoding":{"text":{"field":"s"}}}
]
}
